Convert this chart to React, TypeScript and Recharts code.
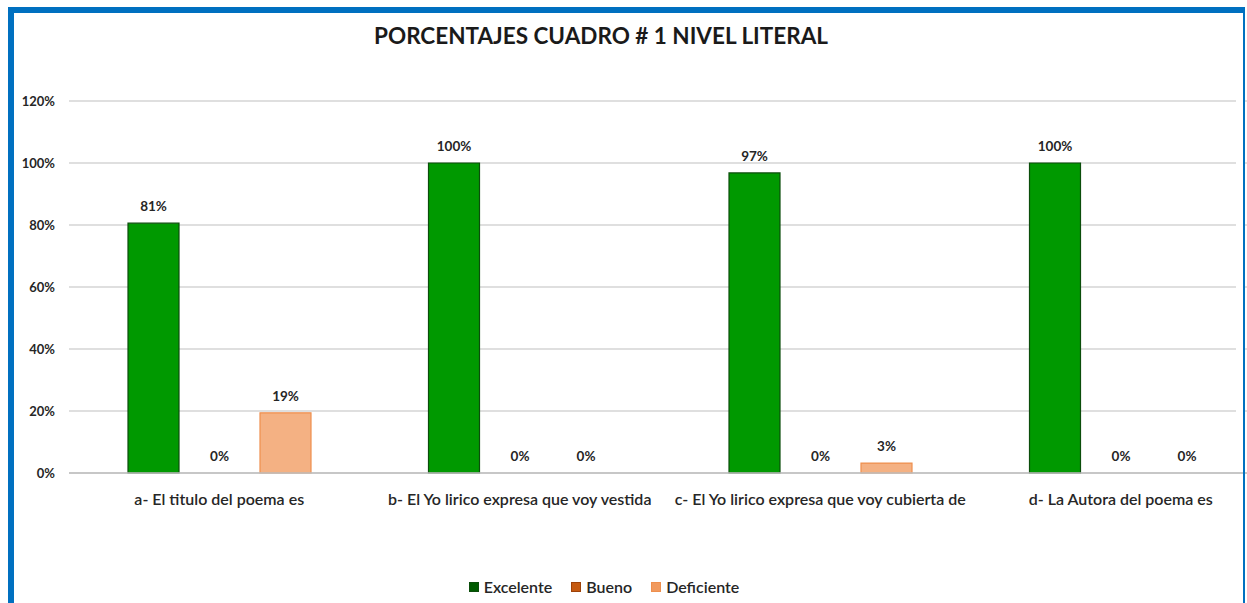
import React from "react";
import { BarChart, Bar, XAxis, YAxis, CartesianGrid, LabelList, Legend, Rectangle } from "recharts";

const categories = [
  "a- El titulo del poema es",
  "b- El Yo lirico expresa que voy vestida",
  "c- El Yo lirico expresa que voy cubierta de",
  "d- La Autora del poema es",
];
const excelente = [80.6, 100, 96.8, 100];
const bueno = [0, 0, 0, 0];
const deficiente = [19.4, 0, 3.2, 0];
const yTicks = [0, 20, 40, 60, 80, 100, 120];
const seriesNames = ["Excelente", "Bueno", "Deficiente"];
const title = "PORCENTAJES CUADRO # 1 NIVEL LITERAL";

const data = categories.map((c, i) => ({
  name: c,
  Excelente: excelente[i],
  Bueno: bueno[i],
  Deficiente: deficiente[i],
}));

const fills = ["#009900", "#C55A11", "#F4B183"];
const strokes = ["#0B4D0B", "#9E4209", "#EE8F4E"];
const legendFills = ["#005A00", "#C55A11", "#F19A5E"];

const FONT = "Lato, 'Open Sans', sans-serif";
const fmt = (v: any) => `${Math.round(Number(v))}%`;

const BarShape = (props: any) => {
  const v = Number(props.value);
  if (!v || props.height < 0.5) return <g />;
  return <Rectangle {...props} />;
};

const LegendContent = () => (
  <div style={{ display: "flex", justifyContent: "center", alignItems: "center", fontFamily: FONT, fontSize: 16, color: "#262626", fontWeight: 600 }}>
    {seriesNames.map((n, i) => (
      <div key={n} style={{ display: "flex", alignItems: "center", marginRight: i < 2 ? 19 : 0 }}>
        <span style={{ display: "inline-block", width: 10, height: 10, background: legendFills[i], border: `1px solid ${strokes[i]}`, marginRight: 5, boxSizing: "border-box" }} />
        <span>{n}</span>
      </div>
    ))}
  </div>
);

export default function App() {
  return (
    <div style={{ position: "absolute", left: 0, top: 0, width: 1247, height: 603, overflow: "hidden", background: "#fff", fontFamily: FONT }}>
      <div style={{ position: "absolute", left: 0, top: 0 }}>
        <BarChart
          width={1281}
          height={603}
          data={data}
          margin={{ top: 101, right: 10, bottom: 100, left: 0 }}
          barSize={51}
          barGap={15}
        >
          <CartesianGrid vertical={false} stroke="#BFBFBF" />
          <XAxis
            dataKey="name"
            height={30}
            tickLine={false}
            tickSize={0}
            tickMargin={21}
            axisLine={{ stroke: "#BFBFBF", strokeWidth: 1.5 }}
            interval={0}
            tick={{ fill: "#262626", fontSize: 16, fontWeight: 600, fontFamily: FONT }}
          />
          <YAxis
            width={69}
            domain={[0, 120]}
            ticks={yTicks}
            tickFormatter={fmt}
            axisLine={false}
            tickLine={false}
            tickSize={0}
            tickMargin={14}
            tick={{ fill: "#262626", fontSize: 13, fontWeight: 700, fontFamily: FONT }}
          />
          {seriesNames.map((n, i) => (
            <Bar
              key={n}
              dataKey={n}
              fill={fills[i]}
              stroke={strokes[i]}
              strokeWidth={1.2}
              minPointSize={0.01}
              shape={BarShape}
              isAnimationActive={false}
            >
              <LabelList
                dataKey={n}
                position="top"
                offset={12}
                formatter={fmt}
                style={{ fill: "#262626", fontSize: 13.5, fontWeight: 700, fontFamily: FONT }}
              />
            </Bar>
          ))}
          <Legend
            layout="horizontal"
            verticalAlign="middle"
            align="center"
            content={() => <LegendContent />}
            wrapperStyle={{ top: 577, left: 0, width: 1208 }}
          />
        </BarChart>
      </div>
      <div
        style={{
          position: "absolute",
          left: 1236,
          top: 90,
          width: 8,
          height: 378,
          background: "#fff",
        }}
      />
      <div
        style={{
          position: "absolute",
          left: 601,
          top: 24,
          transform: "translateX(-50%)",
          whiteSpace: "nowrap",
          fontFamily: FONT,
          fontWeight: 700,
          fontSize: 22.5,
          lineHeight: "23px",
          color: "#1a1a1a",
        }}
      >
        {title}
      </div>
      <div
        style={{
          position: "absolute",
          left: 8,
          top: 7,
          width: 1237,
          height: 700,
          boxSizing: "border-box",
          borderTop: "6px solid #0070C0",
          borderLeft: "6px solid #0070C0",
          borderRight: "2px solid #0070C0",
          pointerEvents: "none",
        }}
      />
    </div>
  );
}
